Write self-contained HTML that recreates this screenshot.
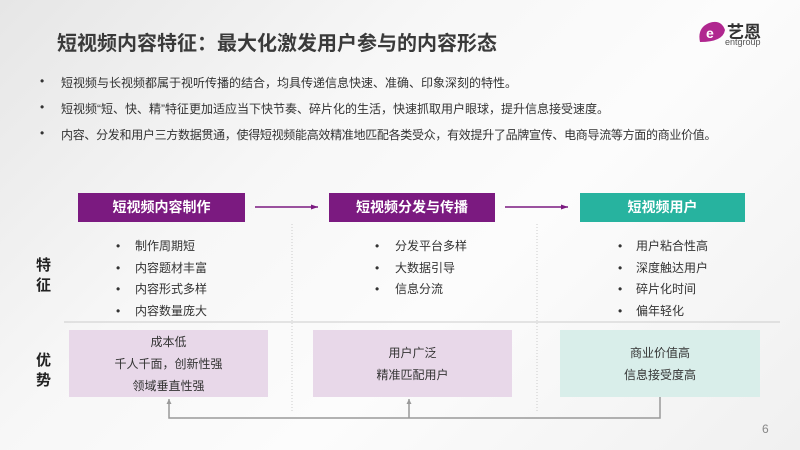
<!DOCTYPE html>
<html><head><meta charset="utf-8"><style>
*{margin:0;padding:0;box-sizing:border-box}
body{width:800px;height:450px;overflow:hidden;position:relative;font-family:"Liberation Sans","Noto Sans CJK SC",sans-serif;color:#333;background:linear-gradient(135deg,#e6e6e6 0%,#f7f7f7 35%,#fcfcfc 60%,#f0f0f0 100%)}
.a{position:absolute;white-space:nowrap}
.title{left:57px;top:27px;font-size:20px;font-weight:bold;color:#3a3a3a}
.b{font-size:12px;color:#333}
.hd{position:absolute;height:29px;top:193px;color:#fff;font-weight:bold;font-size:14px;text-align:center;line-height:29px}
.it{font-size:12px;color:#333}
.adv{position:absolute;top:330px;height:67px;font-size:12px;color:#333;text-align:center;display:flex;flex-direction:column;justify-content:center;line-height:22px}
.lab{font-size:15px;font-weight:bold;color:#222;line-height:20px}
</style></head><body>
<div class="a title">短视频内容特征：最大化激发用户参与的内容形态</div>
<svg class="a" style="left:697px;top:20px" width="30" height="26" viewBox="0 0 30 26"><path d="M3 22 Q0 8 12 3 Q24 -1 28 10 Q26 22 3 22Z" fill="#b0278f"/><text x="9" y="18" font-size="14" fill="#fff" font-family="Liberation Sans" font-weight="bold">e</text></svg>
<div class="a" style="left:727px;top:18px;font-size:17px;font-weight:bold;color:#333">艺恩</div>
<div class="a" style="left:725px;top:37px;font-size:9px;color:#555">entgroup</div>

<div class="a b" style="left:40px;top:74px">•</div><div class="a b" style="left:61px;top:74px">短视频与长视频都属于视听传播的结合，均具传递信息快速、准确、印象深刻的特性。</div>
<div class="a b" style="left:40px;top:100px">•</div><div class="a b" style="left:61px;top:100px">短视频“短、快、精”特征更加适应当下快节奏、碎片化的生活，快速抓取用户眼球，提升信息接受速度。</div>
<div class="a b" style="left:40px;top:126px">•</div><div class="a b" style="left:61px;top:126px;letter-spacing:-0.3px">内容、分发和用户三方数据贯通，使得短视频能高效精准地匹配各类受众，有效提升了品牌宣传、电商导流等方面的商业价值。</div>

<div class="hd" style="left:78px;width:167px;background:#7b1a80">短视频内容制作</div>
<div class="hd" style="left:329px;width:166px;background:#7b1a80">短视频分发与传播</div>
<div class="hd" style="left:580px;width:165px;background:#27b39f">短视频用户</div>

<svg class="a" style="left:0;top:0" width="800" height="450">
<defs><marker id="m" markerUnits="userSpaceOnUse" markerWidth="8" markerHeight="6" refX="7" refY="3" orient="auto"><path d="M0 0.5 L7 3 L0 5.5Z" fill="#7b1a80"/></marker>
<marker id="g" markerUnits="userSpaceOnUse" markerWidth="6" markerHeight="6" refX="5" refY="3" orient="auto"><path d="M0 0.5 L5 3 L0 5.5Z" fill="#999"/></marker></defs>
<line x1="255" y1="207" x2="318" y2="207" stroke="#7b1a80" stroke-width="1.5" marker-end="url(#m)"/>
<line x1="505" y1="207" x2="568" y2="207" stroke="#7b1a80" stroke-width="1.5" marker-end="url(#m)"/>
<line x1="64" y1="322" x2="780" y2="322" stroke="#ccc" stroke-width="1"/>
<line x1="292" y1="224" x2="292" y2="412" stroke="#ccc" stroke-width="1" stroke-dasharray="1,2"/>
<line x1="537" y1="224" x2="537" y2="412" stroke="#ccc" stroke-width="1" stroke-dasharray="1,2"/>
<polyline points="660,397 660,418 169,418 169,399" fill="none" stroke="#999" stroke-width="1.5" marker-end="url(#g)"/>
<line x1="409" y1="418" x2="409" y2="399" stroke="#999" stroke-width="1.5" marker-end="url(#g)"/>
</svg>

<div class="a lab" style="left:36px;top:256px">特<br>征</div>
<div class="a lab" style="left:36px;top:351px">优<br>势</div>

<div class="a it" style="left:116px;top:236px;line-height:21.5px">•<br>•<br>•<br>•</div>
<div class="a it" style="left:135px;top:236px;line-height:21.5px">制作周期短<br>内容题材丰富<br>内容形式多样<br>内容数量庞大</div>
<div class="a it" style="left:375px;top:236px;line-height:21.5px">•<br>•<br>•</div>
<div class="a it" style="left:395px;top:236px;line-height:21.5px">分发平台多样<br>大数据引导<br>信息分流</div>
<div class="a it" style="left:618px;top:236px;line-height:21.5px">•<br>•<br>•<br>•</div>
<div class="a it" style="left:636px;top:236px;line-height:21.5px">用户粘合性高<br>深度触达用户<br>碎片化时间<br>偏年轻化</div>

<div class="adv" style="left:69px;width:199px;background:#e8d8e9">成本低<br>千人千面，创新性强<br>领域垂直性强</div>
<div class="adv" style="left:313px;width:199px;background:#e8d8e9">用户广泛<br>精准匹配用户</div>
<div class="adv" style="left:560px;width:200px;background:#d9eeea">商业价值高<br>信息接受度高</div>

<div class="a" style="left:762px;top:422px;font-size:12px;color:#888">6</div>
</body></html>
